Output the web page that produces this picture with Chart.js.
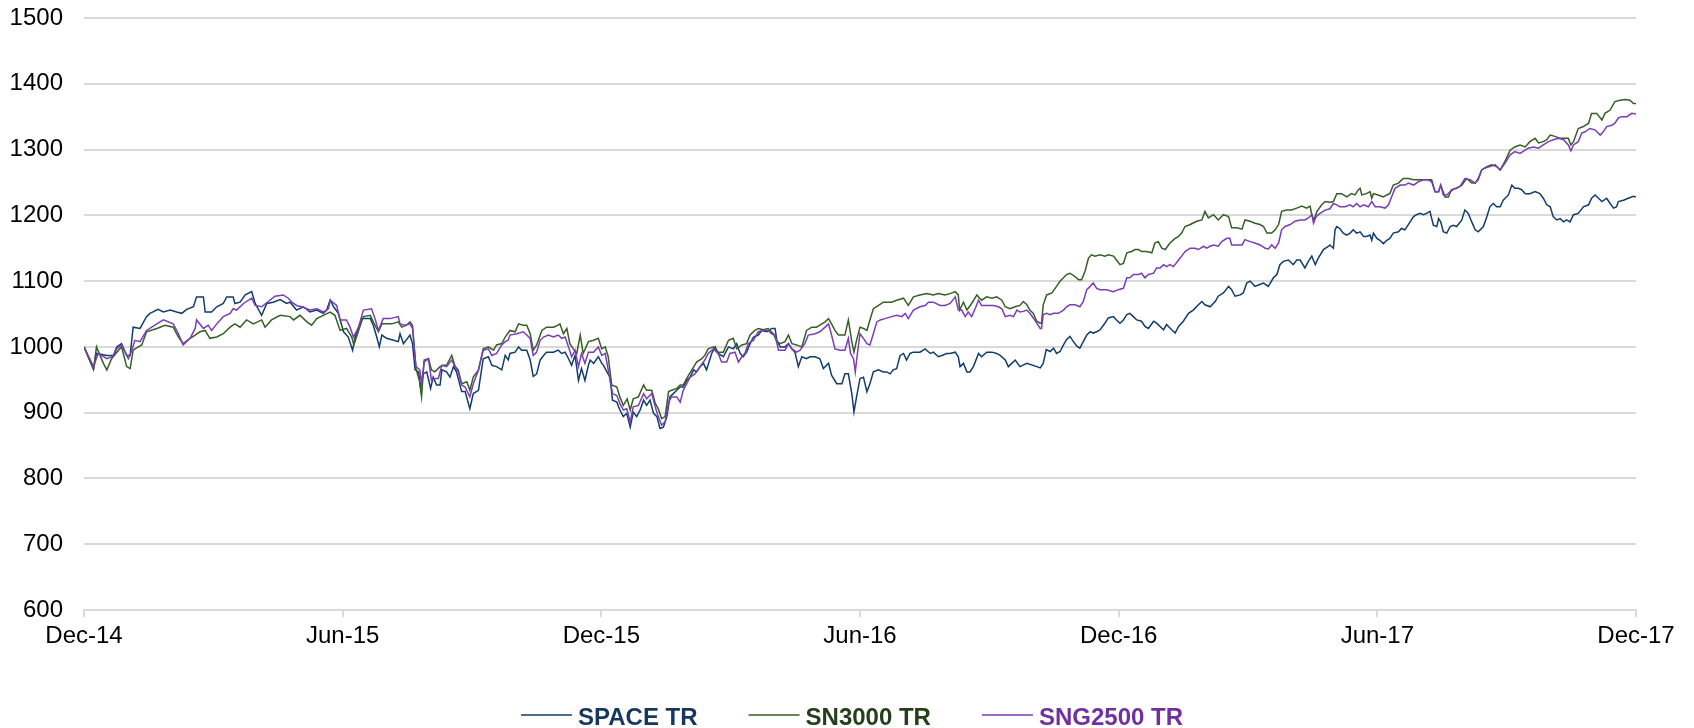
<!DOCTYPE html>
<html><head><meta charset="utf-8">
<script src="https://cdn.jsdelivr.net/npm/chart.js@4.4.1/dist/chart.umd.min.js"></script>
<style>html,body{margin:0;padding:0;background:#fff;}#wrap{width:1694px;height:728px;}</style>
</head><body><div id="wrap"><canvas id="c" width="1694" height="728"></canvas></div>
<script>
// x = months since Dec-14, y = index value
const xTickLabels = ['Dec-14','Jun-15','Dec-15','Jun-16','Dec-16','Jun-17','Dec-17'];
const seriesNames = ['SPACE TR','SN3000 TR','SNG2500 TR'];

const spaceTR = [[0,1000],[0.22,966],[0.29,990],[0.53,987],[0.68,987],[0.76,1000],[0.87,1005],[0.99,987],[1.07,987],[1.14,1030],[1.30,1028],[1.45,1046],[1.53,1051],[1.72,1057],[1.84,1053],[2.00,1056],[2.15,1053],[2.27,1051],[2.38,1057],[2.54,1061],[2.61,1076],[2.77,1076],[2.81,1053],[2.96,1053],[3.08,1061],[3.23,1066],[3.31,1076],[3.46,1076],[3.50,1066],[3.62,1068],[3.74,1079],[3.89,1084],[3.97,1066],[4.12,1048],[4.24,1066],[4.39,1068],[4.55,1072],[4.70,1066],[4.78,1068],[4.93,1056],[5.09,1061],[5.24,1053],[5.40,1056],[5.55,1051],[5.63,1056],[5.71,1071],[5.79,1061],[5.90,1051],[6.02,1023],[6.13,1015],[6.23,995],[6.29,1015],[6.44,1043],[6.64,1043],[6.71,1033],[6.79,1015],[6.85,1000],[6.91,1018],[7.02,1013],[7.18,1010],[7.29,1008],
[7.33,1020],[7.41,1005],[7.56,1018],[7.62,1005],[7.68,965],[7.76,962],[7.81,937],[7.87,959],[7.95,962],[8.04,937],[8.10,954],[8.18,942],[8.26,942],[8.30,965],[8.41,962],[8.49,954],[8.57,970],[8.64,962],[8.76,932],[8.84,932],[8.95,906],[9.03,929],[9.15,934],[9.26,982],[9.38,985],[9.46,972],[9.57,970],[9.69,965],[9.77,987],[9.84,980],[9.88,990],[10.00,992],[10.08,1000],[10.15,995],[10.27,995],[10.35,980],[10.42,955],[10.50,959],[10.58,980],[10.66,987],[10.73,992],[10.89,992],[11.00,995],[11.08,990],[11.16,992],[11.24,982],[11.31,972],[11.39,987],[11.47,949],[11.54,967],[11.62,949],[11.70,972],[11.74,980],[11.82,975],[11.93,985],[12.01,975],[12.05,972],[12.13,962],[12.20,954],[12.26,919],[12.36,916],[12.43,904],[12.51,894],[12.59,899],[12.67,878],[12.74,901],[12.82,894],[12.90,904],[12.98,919],[13.05,911],[13.13,919],[13.21,899],[13.29,894],[13.36,876],[13.44,878],[13.52,894],[13.59,924],[13.67,929],[13.75,934],[13.83,939],[13.90,939],[13.98,949],[14.06,954],[14.14,965],[14.21,962],[14.29,970],
[14.37,975],[14.44,965],[14.56,990],[14.64,1000],[14.71,990],[14.83,985],[14.95,1000],[15.06,997],[15.14,1005],[15.22,990],[15.29,985],[15.37,992],[15.45,1005],[15.53,1015],[15.64,1018],[15.72,1025],[15.84,1023],[15.95,1028],[16.03,1028],[16.07,1010],[16.15,1000],[16.26,1000],[16.34,1005],[16.42,997],[16.49,992],[16.57,970],[16.65,985],[16.76,982],[16.84,985],[16.96,985],[17.07,982],[17.15,967],[17.27,975],[17.34,957],[17.46,944],[17.58,944],[17.65,959],[17.73,959],[17.81,929],[17.86,901],[17.92,924],[18.00,952],[18.08,954],[18.16,932],[18.23,944],[18.31,962],[18.43,965],[18.54,962],[18.62,962],[18.70,959],[18.77,965],[18.85,967],[18.93,987],[19.01,990],[19.08,980],[19.16,990],[19.24,992],[19.39,992],[19.51,997],[19.63,990],[19.70,992],[19.82,985],[19.90,987],[20.01,990],[20.09,990],[20.21,992],[20.28,985],[20.32,970],[20.40,975],[20.48,962],[20.55,962],[20.63,970],[20.75,990],[20.82,985],[20.94,992],[21.06,992],[21.17,990],[21.25,987],[21.37,980],[21.44,970],[21.52,975],[21.60,980],[21.71,970],
[21.87,975],[22.10,970],[22.18,968],[22.25,975],[22.32,996],[22.41,993],[22.49,998],[22.56,990],[22.64,993],[22.72,1003],[22.79,1011],[22.87,1016],[22.95,1008],[23.03,1001],[23.10,998],[23.18,1008],[23.26,1018],[23.34,1023],[23.41,1021],[23.49,1023],[23.57,1026],[23.68,1036],[23.76,1044],[23.88,1046],[23.95,1041],[24.03,1036],[24.11,1041],[24.19,1049],[24.26,1051],[24.34,1046],[24.42,1041],[24.53,1039],[24.61,1031],[24.69,1028],[24.81,1039],[24.88,1036],[24.96,1031],[25.04,1026],[25.11,1034],[25.23,1026],[25.31,1021],[25.39,1031],[25.50,1039],[25.62,1051],[25.73,1056],[25.85,1064],[25.93,1069],[26.00,1064],[26.12,1061],[26.24,1069],[26.31,1077],[26.43,1082],[26.55,1092],[26.62,1087],[26.70,1077],[26.82,1079],[26.89,1082],[26.97,1097],[27.05,1100],[27.16,1092],[27.24,1094],[27.36,1097],[27.47,1092],[27.59,1105],[27.67,1110],[27.74,1125],[27.82,1130],[27.94,1132],[28.05,1125],[28.13,1132],[28.21,1132],[28.32,1120],[28.40,1130],[28.48,1138],[28.56,1125],[28.63,1135],[28.75,1148],[28.87,1153],
[28.90,1155],[28.98,1150],[29.02,1178],[29.06,1183],[29.13,1180],[29.21,1173],[29.29,1170],[29.37,1173],[29.44,1178],[29.52,1173],[29.60,1175],[29.68,1168],[29.75,1168],[29.83,1170],[29.87,1162],[29.91,1173],[29.99,1165],[30.06,1162],[30.14,1157],[30.22,1162],[30.29,1165],[30.37,1173],[30.49,1175],[30.56,1180],[30.64,1178],[30.76,1190],[30.84,1198],[30.91,1201],[30.99,1203],[31.07,1201],[31.14,1203],[31.22,1206],[31.30,1185],[31.38,1183],[31.42,1195],[31.47,1190],[31.53,1175],[31.61,1173],[31.69,1183],[31.76,1185],[31.84,1183],[31.96,1193],[32.03,1208],[32.11,1203],[32.19,1190],[32.27,1178],[32.34,1175],[32.46,1183],[32.54,1198],[32.61,1213],[32.69,1218],[32.77,1213],[32.85,1213],[32.92,1223],[33.04,1231],[33.12,1246],[33.19,1241],[33.27,1241],[33.35,1239],[33.43,1233],[33.54,1233],[33.66,1236],[33.77,1233],[33.85,1226],[33.93,1216],[34.01,1213],[34.08,1198],[34.16,1193],[34.24,1195],[34.32,1190],[34.39,1193],[34.47,1190],[34.55,1201],[34.66,1203],[34.78,1213],[34.90,1216],[34.97,1226],[35.05,1231],[35.13,1226],[35.21,1221],[35.32,1226],[35.40,1218],[35.48,1211],[35.55,1213],[35.59,1221],[35.71,1223],[35.82,1226],[35.94,1229],[36.00,1228]];

const sn3000TR = [[0,1000],[0.22,966],[0.29,1000],[0.45,975],[0.53,965],[0.64,982],[0.80,995],[0.87,1000],[0.99,970],[1.07,967],[1.14,995],[1.26,1000],[1.34,1003],[1.45,1023],[1.69,1028],[1.88,1033],[2.07,1030],[2.19,1015],[2.30,1005],[2.46,1013],[2.58,1018],[2.69,1023],[2.81,1025],[2.92,1013],[3.08,1015],[3.23,1020],[3.39,1030],[3.50,1035],[3.62,1030],[3.77,1041],[3.93,1035],[4.12,1041],[4.20,1030],[4.35,1041],[4.55,1048],[4.78,1046],[4.86,1041],[5.01,1048],[5.17,1038],[5.28,1033],[5.40,1043],[5.55,1048],[5.71,1053],[5.82,1048],[5.94,1025],[6.09,1028],[6.21,1015],[6.26,1003],[6.37,1025],[6.48,1046],[6.64,1048],[6.71,1038],[6.83,1023],[6.91,1035],[7.14,1035],[7.29,1038],
[7.37,1030],[7.48,1033],[7.56,1038],[7.62,1033],[7.70,967],[7.78,949],[7.83,924],[7.89,980],[7.99,982],[8.06,965],[8.14,962],[8.26,970],[8.32,972],[8.41,972],[8.53,987],[8.61,970],[8.68,965],[8.76,944],[8.88,947],[8.95,934],[9.03,954],[9.15,965],[9.26,997],[9.38,1000],[9.50,995],[9.57,1003],[9.69,1005],[9.77,1015],[9.88,1025],[10.00,1023],[10.08,1035],[10.19,1033],[10.27,1033],[10.35,1020],[10.42,995],[10.50,1003],[10.62,1025],[10.73,1030],[10.89,1030],[11.00,1033],[11.04,1035],[11.12,1020],[11.20,1028],[11.27,1005],[11.35,997],[11.43,990],[11.51,1018],[11.58,990],[11.70,1008],[11.82,1010],[11.93,1013],[12.01,997],[12.09,1000],[12.16,985],[12.24,942],[12.36,939],[12.43,924],[12.51,911],[12.60,921],[12.67,904],[12.74,921],[12.86,924],[12.98,942],[13.05,934],[13.17,934],[13.25,914],[13.32,906],[13.40,891],[13.48,894],[13.56,932],[13.63,934],[13.75,937],[13.83,942],[13.90,942],[13.98,952],[14.10,965],[14.21,977],[14.33,982],
[14.40,987],[14.48,997],[14.60,1000],[14.71,992],[14.83,992],[14.95,1010],[15.06,1013],[15.14,997],[15.26,1003],[15.37,1005],[15.45,1018],[15.56,1025],[15.64,1028],[15.76,1026],[15.87,1028],[15.99,1020],[16.07,1008],[16.15,1005],[16.26,1008],[16.34,1018],[16.42,1005],[16.53,1003],[16.65,1000],[16.76,1025],[16.88,1030],[16.99,1030],[17.07,1033],[17.19,1038],[17.27,1043],[17.34,1035],[17.42,1025],[17.50,1018],[17.65,1018],[17.73,1041],[17.81,1008],[17.86,992],[17.92,1010],[18.00,1030],[18.08,1028],[18.16,1025],[18.23,1041],[18.31,1058],[18.43,1063],[18.54,1068],[18.73,1068],[18.85,1071],[19.01,1074],[19.12,1063],[19.24,1076],[19.39,1079],[19.55,1081],[19.70,1079],[19.82,1081],[19.97,1079],[20.09,1081],[20.21,1084],[20.28,1079],[20.31,1056],[20.40,1068],[20.48,1056],[20.59,1066],[20.71,1079],[20.82,1071],[20.94,1076],[21.06,1074],[21.17,1076],[21.29,1071],[21.37,1061],[21.48,1058],[21.60,1061],[21.71,1063],
[21.79,1069],[21.87,1064],[21.94,1056],[22.02,1051],[22.10,1039],[22.18,1036],[22.21,1036],[22.25,1064],[22.33,1079],[22.45,1082],[22.56,1092],[22.64,1100],[22.72,1105],[22.79,1110],[22.87,1112],[22.99,1107],[23.07,1102],[23.14,1102],[23.22,1115],[23.30,1135],[23.37,1140],[23.45,1138],[23.57,1140],[23.68,1138],[23.76,1140],[23.88,1138],[23.95,1132],[24.03,1125],[24.11,1127],[24.19,1143],[24.30,1145],[24.38,1148],[24.46,1148],[24.53,1145],[24.65,1145],[24.77,1143],[24.84,1158],[24.92,1160],[25.00,1150],[25.08,1148],[25.19,1158],[25.31,1165],[25.39,1168],[25.46,1173],[25.54,1183],[25.66,1186],[25.81,1191],[25.93,1193],[26.00,1206],[26.08,1196],[26.20,1201],[26.31,1193],[26.43,1201],[26.55,1198],[26.62,1181],[26.74,1181],[26.86,1179],[26.93,1193],[27.05,1191],[27.16,1188],[27.28,1186],[27.36,1183],[27.44,1173],[27.55,1173],[27.63,1178],[27.71,1186],[27.78,1206],[27.90,1208],[28.01,1208],[28.13,1211],[28.25,1214],[28.36,1211],[28.44,1214],[28.48,1201],[28.53,1193],[28.60,1206],[28.71,1216],[28.79,1221],[28.90,1220],
[28.98,1221],[29.06,1233],[29.17,1233],[29.29,1228],[29.40,1233],[29.48,1231],[29.56,1239],[29.60,1241],[29.64,1231],[29.75,1233],[29.83,1236],[29.87,1226],[29.91,1233],[30.02,1231],[30.14,1228],[30.22,1231],[30.29,1233],[30.37,1246],[30.49,1249],[30.60,1256],[30.72,1256],[30.84,1254],[30.95,1254],[31.07,1254],[31.18,1254],[31.26,1254],[31.34,1236],[31.42,1236],[31.47,1246],[31.57,1228],[31.65,1228],[31.72,1239],[31.84,1241],[31.96,1246],[32.07,1256],[32.19,1249],[32.27,1249],[32.34,1256],[32.42,1269],[32.54,1274],[32.65,1277],[32.77,1274],[32.85,1269],[32.96,1282],[33.08,1299],[33.19,1304],[33.31,1307],[33.43,1304],[33.54,1312],[33.66,1317],[33.74,1310],[33.85,1312],[33.93,1315],[34.01,1322],[34.12,1320],[34.24,1317],[34.35,1317],[34.43,1317],[34.49,1307],[34.55,1312],[34.66,1332],[34.78,1335],[34.90,1340],[34.97,1355],[35.09,1355],[35.21,1345],[35.28,1355],[35.40,1360],[35.51,1373],[35.63,1375],[35.75,1376],[35.86,1375],[35.94,1370],[36.00,1370]];

const sng2500TR = [[0,1000],[0.22,970],[0.33,990],[0.53,982],[0.68,986],[0.76,997],[0.87,1003],[1.03,982],[1.11,995],[1.18,1010],[1.30,1008],[1.45,1025],[1.69,1035],[1.84,1041],[2.07,1035],[2.19,1020],[2.30,1003],[2.46,1013],[2.58,1028],[2.61,1041],[2.77,1028],[2.88,1033],[2.96,1025],[3.08,1035],[3.23,1046],[3.39,1051],[3.46,1058],[3.54,1056],[3.70,1066],[3.89,1074],[3.97,1063],[4.12,1061],[4.43,1077],[4.62,1079],[4.74,1074],[4.82,1068],[4.93,1063],[5.05,1061],[5.24,1056],[5.40,1058],[5.55,1053],[5.67,1058],[5.71,1071],[5.86,1063],[5.94,1041],[6.09,1041],[6.17,1030],[6.25,1015],[6.37,1030],[6.48,1056],[6.67,1058],[6.75,1043],[6.83,1025],[6.94,1043],[7.10,1043],[7.29,1046],
[7.33,1035],[7.45,1033],[7.56,1035],[7.62,1028],[7.70,970],[7.79,965],[7.83,944],[7.89,977],[7.99,982],[8.06,949],[8.14,952],[8.22,952],[8.30,972],[8.41,970],[8.53,980],[8.61,970],[8.68,962],[8.76,942],[8.84,939],[8.95,924],[9.03,944],[9.15,965],[9.26,995],[9.38,997],[9.46,987],[9.57,990],[9.69,1003],[9.77,1008],[9.84,1010],[9.88,1018],[10.04,1020],[10.19,1023],[10.27,1018],[10.35,1013],[10.42,987],[10.50,992],[10.58,1010],[10.66,1015],[10.77,1018],[10.89,1015],[11.00,1018],[11.08,1013],[11.16,1015],[11.24,1000],[11.31,985],[11.39,995],[11.47,970],[11.54,990],[11.62,975],[11.70,992],[11.82,992],[11.93,1000],[12.01,987],[12.09,990],[12.16,965],[12.26,929],[12.36,926],[12.43,914],[12.51,904],[12.59,906],[12.67,886],[12.74,909],[12.86,911],[12.98,929],[13.05,921],[13.17,929],[13.25,909],[13.32,894],[13.40,881],[13.48,886],[13.56,916],[13.63,924],[13.75,924],[13.83,916],[13.90,934],[13.98,944],[14.06,954],[14.17,959],[14.29,970],
[14.40,980],[14.48,990],[14.60,997],[14.71,990],[14.79,977],[14.91,977],[14.98,990],[15.10,992],[15.18,977],[15.26,985],[15.33,990],[15.41,1005],[15.53,1010],[15.64,1023],[15.76,1025],[15.87,1025],[15.95,1020],[16.03,1018],[16.11,995],[16.26,995],[16.34,1005],[16.42,997],[16.53,992],[16.61,995],[16.72,1005],[16.80,1018],[16.96,1020],[17.07,1023],[17.19,1030],[17.27,1035],[17.34,1018],[17.42,997],[17.54,995],[17.65,995],[17.73,1013],[17.78,990],[17.85,982],[17.89,962],[17.94,990],[18.00,1020],[18.08,1013],[18.16,1005],[18.23,1003],[18.31,1020],[18.39,1038],[18.47,1041],[18.58,1043],[18.73,1046],[18.85,1048],[18.97,1046],[19.05,1051],[19.12,1043],[19.24,1056],[19.39,1061],[19.51,1063],[19.59,1068],[19.70,1068],[19.86,1063],[19.97,1063],[20.09,1066],[20.21,1076],[20.28,1056],[20.36,1056],[20.44,1046],[20.51,1053],[20.59,1046],[20.67,1058],[20.75,1071],[20.82,1063],[20.94,1063],[21.10,1063],[21.21,1061],[21.29,1058],[21.37,1046],[21.48,1048],[21.56,1046],[21.64,1056],[21.71,1053],
[21.79,1054],[21.87,1056],[21.94,1051],[22.02,1044],[22.10,1036],[22.18,1028],[22.21,1028],[22.25,1049],[22.33,1051],[22.41,1049],[22.49,1051],[22.60,1051],[22.72,1056],[22.79,1061],[22.87,1064],[22.99,1064],[23.10,1061],[23.18,1069],[23.26,1087],[23.34,1092],[23.41,1097],[23.49,1089],[23.57,1087],[23.72,1087],[23.88,1084],[23.99,1087],[24.11,1089],[24.19,1105],[24.26,1105],[24.34,1110],[24.46,1110],[24.53,1112],[24.61,1105],[24.69,1110],[24.81,1112],[24.88,1120],[24.96,1120],[25.04,1125],[25.11,1122],[25.19,1125],[25.27,1122],[25.39,1132],[25.46,1138],[25.54,1145],[25.66,1150],[25.77,1150],[25.85,1148],[25.97,1153],[26.04,1150],[26.12,1153],[26.20,1155],[26.31,1153],[26.39,1160],[26.51,1165],[26.58,1165],[26.62,1155],[26.74,1155],[26.86,1155],[26.93,1163],[27.05,1160],[27.16,1158],[27.28,1155],[27.40,1150],[27.47,1149],[27.55,1155],[27.63,1150],[27.71,1158],[27.78,1178],[27.86,1183],[27.98,1186],[28.09,1191],[28.21,1193],[28.32,1193],[28.40,1196],[28.48,1201],[28.52,1188],[28.58,1198],[28.67,1203],[28.79,1208],[28.90,1210],
[28.98,1218],[29.06,1216],[29.13,1213],[29.25,1213],[29.37,1216],[29.44,1213],[29.52,1218],[29.60,1213],[29.68,1216],[29.79,1213],[29.87,1221],[29.95,1213],[30.06,1213],[30.18,1211],[30.26,1216],[30.33,1228],[30.41,1241],[30.53,1246],[30.64,1246],[30.72,1249],[30.84,1246],[30.95,1251],[31.07,1254],[31.18,1254],[31.26,1251],[31.34,1236],[31.42,1236],[31.47,1246],[31.53,1231],[31.61,1231],[31.69,1236],[31.80,1241],[31.92,1244],[32.03,1256],[32.15,1254],[32.27,1249],[32.34,1254],[32.42,1269],[32.50,1272],[32.61,1274],[32.73,1277],[32.85,1269],[32.96,1279],[33.08,1292],[33.19,1297],[33.31,1294],[33.43,1299],[33.50,1302],[33.62,1304],[33.74,1302],[33.85,1307],[33.97,1312],[34.08,1315],[34.20,1317],[34.32,1315],[34.43,1307],[34.49,1298],[34.55,1307],[34.66,1312],[34.74,1325],[34.82,1327],[34.93,1332],[35.05,1330],[35.17,1322],[35.24,1327],[35.32,1335],[35.44,1337],[35.51,1340],[35.59,1348],[35.67,1350],[35.79,1350],[35.90,1355],[36.00,1354]];

const lineColors = ['#123d6b', '#355f24', '#7b3db5'];
const legendTextColors = ['#17375e', '#24401a', '#7030a0'];

const toPoints = arr => arr.map(p => ({x: p[0], y: p[1]}));

const legendPlugin = {
  id: 'lineLegend',
  afterDraw(chart) {
    const ctx = chart.ctx;
    const lineY = 715, textY = 725, lineLen = 51, textGap = 6, itemGap = 51;
    ctx.save();
    ctx.font = 'bold 24px "Liberation Sans", Arial, sans-serif';
    const widths = chart.data.datasets.map(ds => ctx.measureText(ds.label).width);
    const total = widths.reduce((a, w) => a + lineLen + textGap + w, 0) + itemGap * (widths.length - 1);
    let x = (chart.width - total) / 2 + 5;
    chart.data.datasets.forEach((ds, i) => {
      ctx.strokeStyle = ds.borderColor;
      ctx.lineWidth = 1.5;
      ctx.beginPath(); ctx.moveTo(x, lineY); ctx.lineTo(x + lineLen, lineY); ctx.stroke();
      x += lineLen + textGap;
      ctx.fillStyle = legendTextColors[i];
      ctx.textBaseline = 'alphabetic';
      ctx.textAlign = 'left';
      ctx.fillText(ds.label, x, textY);
      x += widths[i] + itemGap;
    });
    ctx.restore();
  }
};

new Chart(document.getElementById('c'), {
  type: 'line',
  data: {
    datasets: [
      {label: seriesNames[0], data: toPoints(spaceTR), borderColor: lineColors[0], order: 2},
      {label: seriesNames[1], data: toPoints(sn3000TR), borderColor: lineColors[1], order: 1},
      {label: seriesNames[2], data: toPoints(sng2500TR), borderColor: lineColors[2], order: 0}
    ]
  },
  options: {
    responsive: false,
    animation: false,
    devicePixelRatio: 1,
    elements: {
      line: {borderWidth: 1.5, tension: 0, fill: false},
      point: {radius: 0, hoverRadius: 0}
    },
    layout: {padding: {left: 0, right: 58, top: 18, bottom: 0}},
    plugins: {legend: {display: false}, tooltip: {enabled: false}},
    scales: {
      x: {
        type: 'linear', min: 0, max: 36,
        afterFit: s => { s.height = 118; },
        grid: {drawOnChartArea: false, drawTicks: true, tickLength: 7, color: '#d9d9d9', lineWidth: 2},
        border: {display: true, color: '#d9d9d9', width: 2},
        ticks: {
          stepSize: 6, autoSkip: false, maxRotation: 0, padding: 5,
          color: '#000',
          font: {family: '"Liberation Sans", Arial, sans-serif', size: 24},
          callback: v => xTickLabels[Math.round(v / 6)]
        }
      },
      y: {
        min: 600, max: 1500,
        afterFit: s => { s.width = 84; },
        grid: {drawTicks: true, tickLength: 21, tickColor: 'rgba(0,0,0,0)', color: '#d9d9d9', lineWidth: 2},
        border: {display: false},
        ticks: {
          stepSize: 100, padding: 0, color: '#000',
          font: {family: '"Liberation Sans", Arial, sans-serif', size: 24},
          callback: v => String(v)
        }
      }
    }
  },
  plugins: [legendPlugin]
});
</script></body></html>
